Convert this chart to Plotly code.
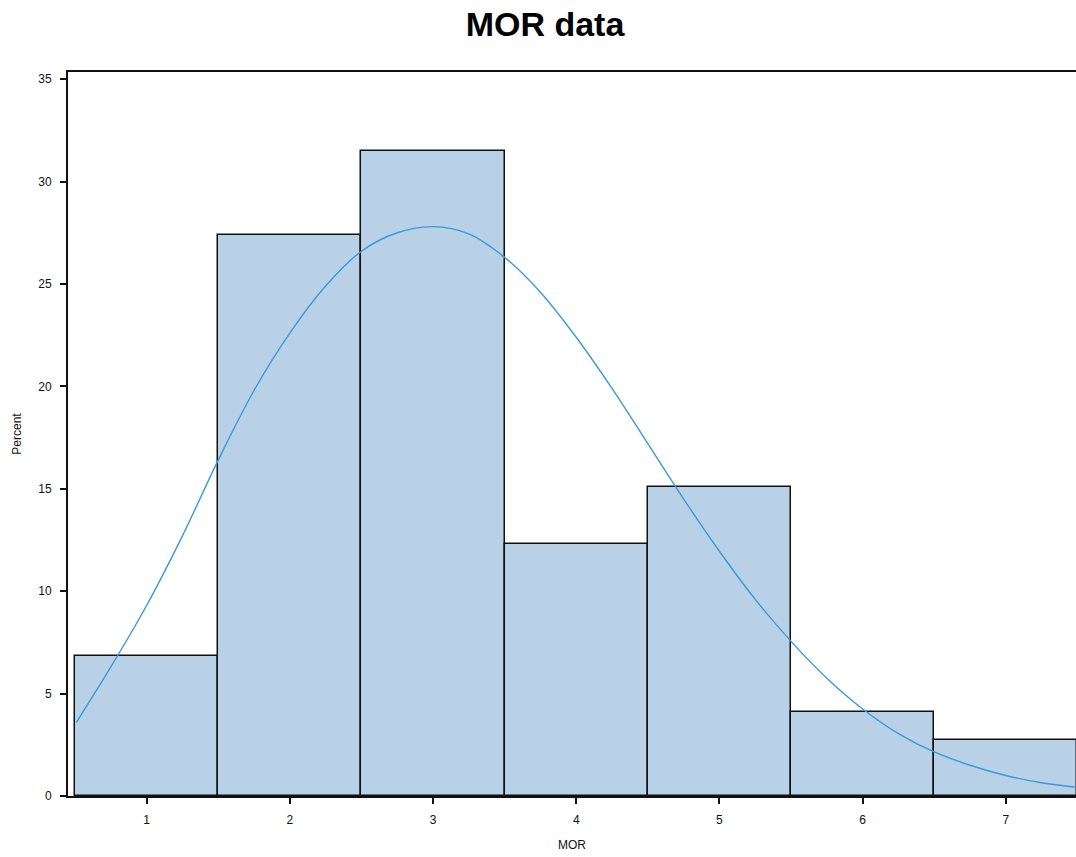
import plotly.graph_objects as go

# Histogram bins (midpoints) and percentage of observations per bin
mor_bins = [1, 2, 3, 4, 5, 6, 7]
counts = [5, 20, 23, 9, 11, 3, 2]
total = sum(counts)
percent = [c / total * 100 for c in counts]

# Fitted density curve, expressed in percent per bin width
curve_x = [0.51, 0.75, 1.00, 1.25, 1.50, 1.75, 2.00, 2.25, 2.50, 2.75, 3.00,
           3.25, 3.50, 3.75, 4.00, 4.25, 4.50, 4.75, 5.00, 5.25, 5.50, 5.75,
           6.00, 6.25, 6.50, 6.75, 7.00, 7.25, 7.50]
curve_y = [3.60, 6.30, 9.30, 12.70, 16.40, 19.80, 22.60, 24.90, 26.60, 27.50, 27.80,
           27.45, 26.30, 24.60, 22.40, 19.90, 17.20, 14.50, 11.95, 9.60, 7.55, 5.75,
           4.25, 3.05, 2.15, 1.50, 1.00, 0.65, 0.42]

y_ticks = [0, 5, 10, 15, 20, 25, 30, 35]

fig = go.Figure()
fig.add_trace(go.Bar(
    x=mor_bins, y=percent, width=1,
    marker=dict(color="#B8D1E6", line=dict(color="#111111", width=1.5)),
    hoverinfo="x+y", showlegend=False,
))
fig.add_trace(go.Scatter(
    x=curve_x, y=curve_y, mode="lines",
    line=dict(color="#3A9AD9", width=1.4, shape="spline", smoothing=1),
    showlegend=False,
))

fig.update_layout(
    width=1076, height=857,
    margin=dict(l=68, r=0, t=72, b=61),
    paper_bgcolor="white", plot_bgcolor="white",
    bargap=0,
    font=dict(family="Liberation Sans, Arial, sans-serif", color="#111111"),
    title=dict(text="<b>MOR data</b>", x=545 / 1076, xref="container", xanchor="center",
               y=1 - 24 / 857, yref="container", yanchor="middle",
               font=dict(size=34, color="#000000")),
    xaxis=dict(
        range=[0.451, 7.49], tickvals=mor_bins, ticks="outside", ticklen=6,
        tickcolor="#111111", tickwidth=1.5, showline=True, linecolor="#111111",
        linewidth=2, mirror=True, showgrid=False, zeroline=False,
        tickfont=dict(size=12), ticklabelstandoff=6,
        title=dict(text="MOR", font=dict(size=12), standoff=14),
    ),
    yaxis=dict(
        range=[0, 35.35], tickvals=y_ticks, ticks="outside", ticklen=6,
        tickcolor="#111111", tickwidth=1.5, showline=True, linecolor="#111111",
        linewidth=2, mirror=False, showgrid=False, zeroline=False,
        tickfont=dict(size=12), ticklabelstandoff=6,
        title=dict(text="Percent", font=dict(size=12), standoff=14),
    ),
)

fig.write_html("out.html")
